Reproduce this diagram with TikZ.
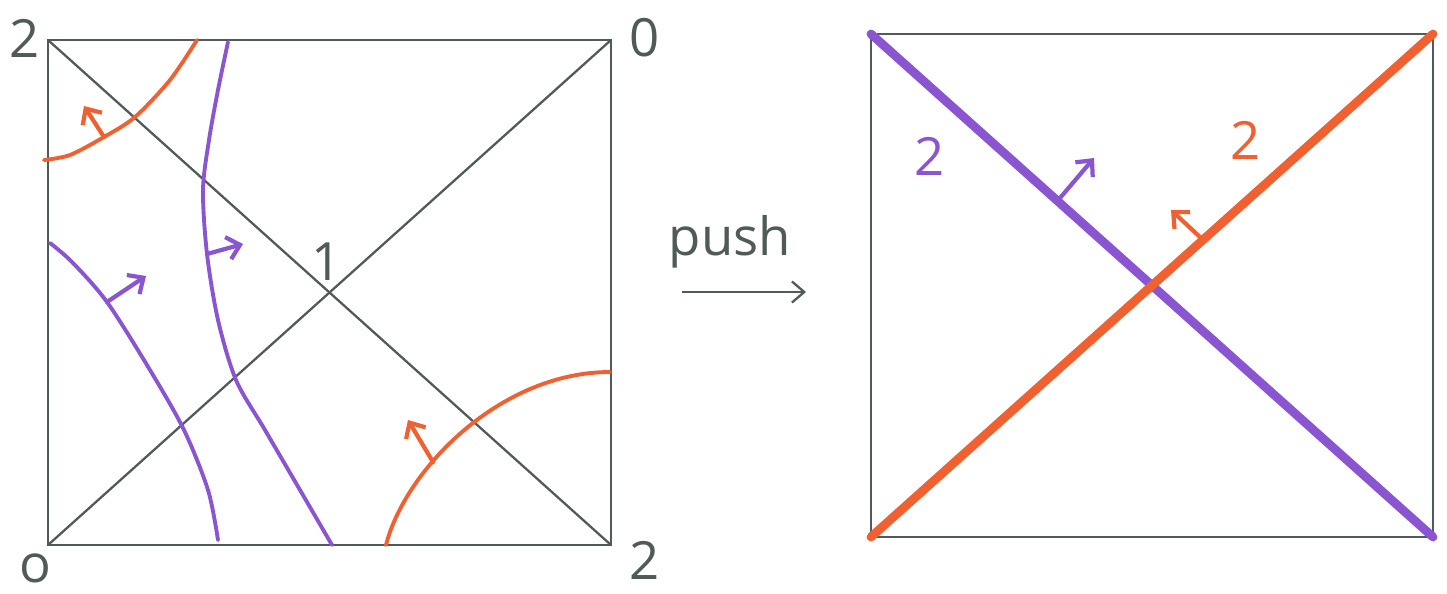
\documentclass[tikz,border=0pt]{standalone}
\usepackage{fontspec}
\setmainfont{Open Sans}
\usetikzlibrary{arrows.meta,positioning}
\definecolor{EdgeGray}  {HTML}{505A58}
\definecolor{PushPurple}{HTML}{8A55D0}
\definecolor{PushOrange}{HTML}{F06030}

\tikzset{
  frame/.style={draw=EdgeGray,line width=1.3pt},
  corner/.style={text=EdgeGray,font=\fontsize{30}{30}\selectfont},
  level/.style={line width=2.2pt,line cap=round},
  normal/.style={line width=2.4pt,line cap=round,-{Straight Barb[length=7pt,width=13pt]}},
  thick diag/.style={line width=5pt,line cap=round}
}

\begin{document}
\begin{tikzpicture}[x=0.02cm,y=-0.02cm]
    \useasboundingbox (0,0) rectangle (1447,593);
    % left square
    \coordinate (a) at (48,40);   \coordinate (b) at (611,40);
    \coordinate (c) at (611,545); \coordinate (d) at (48,545);
    \draw[frame] (a) -- (b) -- (c) -- (d) -- cycle;
    \draw[frame] (a) -- (c);
    \draw[frame] (d) -- (b);
    \node[corner] (la) at (25,38) {2};
    \node[corner] (lb) at (645,38) {0};
    \node[corner] (lc) at (645,560) {2};
    \node[corner] (ld) at (35,568) {o};
    \node[corner] (lm) at (327,262) {1};
    % level curves
    \draw[level,PushOrange] plot[smooth] coordinates
      {(44,160) (70,155) (104,137) (135,117) (170,80) (197,40)};
    \draw[level,PushPurple] plot[smooth] coordinates
      {(228,42) (218,90) (209,140) (203,190) (207,254) (218,320) (236,380) (265,430) (300,490) (332,545)};
    \draw[level,PushPurple] plot[smooth] coordinates
      {(50,243) (72,262) (107,302) (150,370) (184,430) (208,490) (218,540)};
    \coordinate (q0) at (386,545); \coordinate (q1) at (610,372);
    \draw[level,PushOrange] (q0) .. controls (405,470) and (500,372) .. (q1);
    \coordinate (o1) at (104,137); \coordinate (o1e) at (84,106);
    \coordinate (p1) at (207,254); \coordinate (p1e) at (243,244);
    \coordinate (p2) at (107,302); \coordinate (p2e) at (146,276);
    \coordinate (o2) at (433,462); \coordinate (o2e) at (408,420);
    \draw[normal,PushOrange] (o1) -- (o1e);
    \draw[normal,PushPurple] (p1) -- (p1e);
    \draw[normal,PushPurple] (p2) -- (p2e);
    \draw[normal,PushOrange] (o2) -- (o2e);
    % push
    \node[corner] (push) at (730,242) {push};
    \coordinate (s) at (682,292); \coordinate (t) at (806,292);
    \draw[EdgeGray,line width=1.3pt,-{Straight Barb[length=7pt,width=12pt]}] (s) -- (t);
    % right square
    \coordinate (e) at (871,34);   \coordinate (f) at (1433,34);
    \coordinate (g) at (1433,537); \coordinate (h) at (871,537);
    \draw[frame] (e) -- (f) -- (g) -- (h) -- cycle;
    \draw[thick diag,PushPurple] (e) -- (g);
    \draw[thick diag,PushOrange] (h) -- (f);
    \node[corner,text=PushPurple] (rp) at (930,156) {2};
    \node[corner,text=PushOrange] (ro) at (1246,140) {2};
    \coordinate (p3) at (1060,198); \coordinate (p3e) at (1094,158);
    \coordinate (o3) at (1200,237); \coordinate (o3e) at (1171,210);
    \draw[normal,PushPurple] (p3) -- (p3e);
    \draw[normal,PushOrange] (o3) -- (o3e);
\end{tikzpicture}
\end{document}
